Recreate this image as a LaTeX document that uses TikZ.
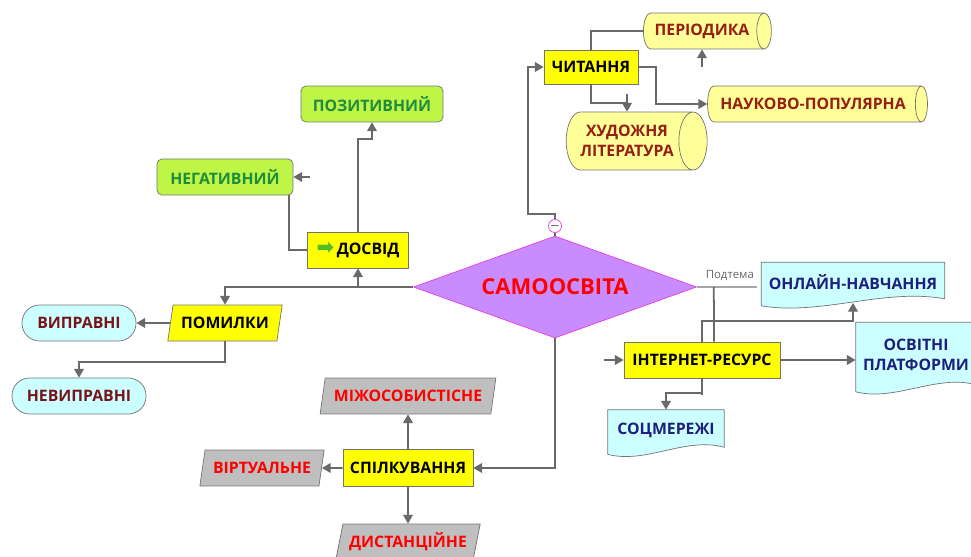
\documentclass[tikz,border=0pt]{standalone}
\usepackage{fontspec}
\setmainfont{Open Sans}
\newfontfamily\arrowfont{DejaVu Sans}
\usetikzlibrary{shapes.geometric,arrows.meta,calc}
\pgfdeclarelayer{back}
\pgfsetlayers{back,main}

\definecolor{linkgray}{RGB}{105,105,105}
\definecolor{boxyellow}{RGB}{255,255,0}
\definecolor{limefill}{RGB}{190,245,70}
\definecolor{limetext}{RGB}{30,140,60}
\definecolor{cylfill}{RGB}{255,255,153}
\definecolor{cyltext}{RGB}{150,30,20}
\definecolor{cyanfill}{RGB}{204,255,255}
\definecolor{navytext}{RGB}{30,30,125}
\definecolor{maroontext}{RGB}{120,20,25}
\definecolor{grayfill}{RGB}{191,191,191}
\definecolor{diamfill}{RGB}{200,140,255}
\definecolor{diamline}{RGB}{230,60,230}
\definecolor{arrowgreen}{RGB}{80,190,40}

\tikzset{
  base/.style={inner sep=1pt, align=center, draw=black!55,
    font=\bfseries\fontsize{9}{11.5}\selectfont},
  yellowbox/.style={base, rectangle, fill=boxyellow},
  limebox/.style={base, rectangle, rounded corners=0.1cm, fill=limefill,
    text=limetext, minimum height=0.72cm},
  % cylinder: height runs along its axis
  cylbox/.style={base, cylinder, shape aspect=0.8, fill=cylfill,
    text=cyltext, minimum width=0.72cm},
  pillbox/.style={base, rectangle, rounded corners=0.35cm, fill=cyanfill,
    text=maroontext, minimum height=0.72cm},
  parabox/.style={base, trapezium, trapezium left angle=73,
    trapezium right angle=107, trapezium stretches=true, minimum height=0.72cm},
  grayplbox/.style={parabox, fill=grayfill, text=red},
  docbox/.style={base, rectangle, draw=none, text=navytext},
  link/.style={draw=linkgray, line width=1pt},
  tip/.style={-{Triangle[length=5pt,width=5.5pt]}},
}

% paper with a wavy bottom edge round a node
\newcommand\docpath[1]{%
  \filldraw[fill=cyanfill, draw=black!55] (#1.north west) -- (#1.north east)
    -- ($(#1.south east)+(0,-3)$)
    .. controls ($(#1.south west)!0.67!(#1.south east)+(0,-14)$)
    and ($(#1.south west)!0.33!(#1.south east)+(0,14)$) .. ($(#1.south west)+(0,4)$)
    -- cycle;}

\begin{document}
\begin{tikzpicture}[x=0.02cm, y=-0.02cm]
\useasboundingbox (0,0) rectangle (971,557);

% centre
\node[diamond, aspect=2.77, inner sep=0pt, minimum width=5.66cm, minimum height=2.04cm,
  fill=diamfill, draw=diamline, text=red, font=\bfseries\fontsize{12.5}{14}\selectfont]
  (samo) at (555,287) {САМООСВІТА};
\node[circle, draw=diamline, fill=white, inner sep=0pt, minimum size=0.2cm,
  font=\fontsize{6}{6}\selectfont] (fold) at (555,226) {$-$};

% reading
\node[yellowbox, minimum width=1.88cm, minimum height=0.68cm] (chit) at (591,67) {ЧИТАННЯ};
\node[cylbox, minimum height=2.56cm] (period) at (702,31) {ПЕРІОДИКА};
\node[cylbox, minimum height=4.4cm] (nauk) at (813,104) {НАУКОВО-ПОПУЛЯРНА};
\node[cylbox, minimum height=2.82cm, minimum width=1.16cm] (xud) at (627,141) {ХУДОЖНЯ\\ЛІТЕРАТУРА};

% experience
\node[limebox, minimum width=2.84cm] (pozyt) at (372,104) {ПОЗИТИВНИЙ};
\node[limebox, minimum width=2.72cm] (negat) at (225,177) {НЕГАТИВНИЙ};
\node[yellowbox, minimum width=2.02cm, minimum height=0.72cm] (dosvid) at (358,250)
  {{\arrowfont\fontsize{12}{12}\selectfont\color{arrowgreen}➡}\,ДОСВІД};

% errors
\node[parabox, fill=boxyellow, minimum width=2.3cm] (pomylky) at (225,323) {ПОМИЛКИ};
\node[pillbox, minimum width=2.28cm] (vypr) at (79,323) {ВИПРАВНІ};
\node[pillbox, minimum width=2.68cm] (nevypr) at (79,396) {НЕВИПРАВНІ};

% internet
\node[yellowbox, minimum width=3.12cm, minimum height=0.72cm] (intern) at (702,360) {ІНТЕРНЕТ-РЕСУРС};
\node[docbox, minimum width=3.66cm, minimum height=0.78cm] (online) at (853,282) {ОНЛАЙН-НАВЧАННЯ};
\node[docbox, minimum width=2.4cm, minimum height=1.3cm] (osvit) at (916,355) {ОСВІТНІ\\ПЛАТФОРМИ};
\node[docbox, minimum width=2.32cm, minimum height=0.8cm] (socm) at (666,430) {СОЦМЕРЕЖІ};
\begin{pgfonlayer}{back}
  \docpath{online}
  \docpath{osvit}
  \docpath{socm}
\end{pgfonlayer}

% communication
\node[yellowbox, minimum width=2.6cm, minimum height=0.74cm] (spilk) at (408,468) {СПІЛКУВАННЯ};
\node[grayplbox, minimum width=3.52cm] (mizh) at (408,396) {МІЖОСОБИСТІСНЕ};
\node[grayplbox, minimum width=2.5cm] (virt) at (262,468) {ВІРТУАЛЬНЕ};
\node[grayplbox, minimum width=2.9cm] (dyst) at (408,542) {ДИСТАНЦІЙНЕ};

% connectors: reading
\coordinate (turn) at (528,214);
\draw[link] (samo.north) -- (fold.south);
\draw[link, tip] (fold.north) |- (turn) |- (chit.west);
\draw[link] (chit.north) |- (period.west);
\draw[link, tip] ($(period.south)+(0,18)$) -- (period.south);
\draw[link, tip] (chit.east) -- ++(18,0) |- (nauk.west);
\draw[link] (chit.south) |- ($(xud.north)+(0,-9)$);
\draw[link, tip] ($(xud.north)+(0,-18)$) -- (xud.north);

% connectors: experience and errors
\draw[link, tip] (samo.west) -| (pomylky.north);
\draw[link, tip] (dosvid.south |- samo.west) -- (dosvid.south);
\draw[link, tip] (dosvid.north) |- ($(pozyt.south)+(0,17)$) -- (pozyt.south);
\draw[link] (dosvid.west) -| ($(negat.south east)+(-4,0)$);
\draw[link, tip] ($(negat.east)+(17,0)$) -- (negat.east);
\draw[link, tip] (pomylky.west) -- (vypr.east);
\draw[link, tip] (pomylky.south) -- ++(0,21) -| (nevypr.north);

% connectors: internet
\draw[draw=gray!70, line width=0.6pt] (samo.east) -- ++(60,0)
  node[pos=0.55, above, text=gray!80!black, font=\fontsize{6.5}{7}\selectfont] {Подтема};
\draw[link] ($(samo.east)+(17,0)$) -- ($(intern.north)+(12,0)$);
\draw[link, tip] (intern.north) |- ($(online.south)+(0,19)$) -- ($(online.south)+(0,1)$);
\draw[link, tip] ($(intern.west)+(-20,0)$) -- (intern.west);
\draw[link, tip] (intern.east) -- (intern.east -| osvit.west);
\draw[link] (intern.south) -- ++(0,17);
\draw[link, tip] ($(intern.south)+(0,15)$) -| (socm.north);

% connectors: communication
\draw[link, tip] (samo.south) |- (spilk.east);
\draw[link, tip] (spilk.north) -- (mizh.south);
\draw[link, tip] (spilk.west) -- (virt.east);
\draw[link, tip] (spilk.south) -- (dyst.north);
\end{tikzpicture}
\end{document}
